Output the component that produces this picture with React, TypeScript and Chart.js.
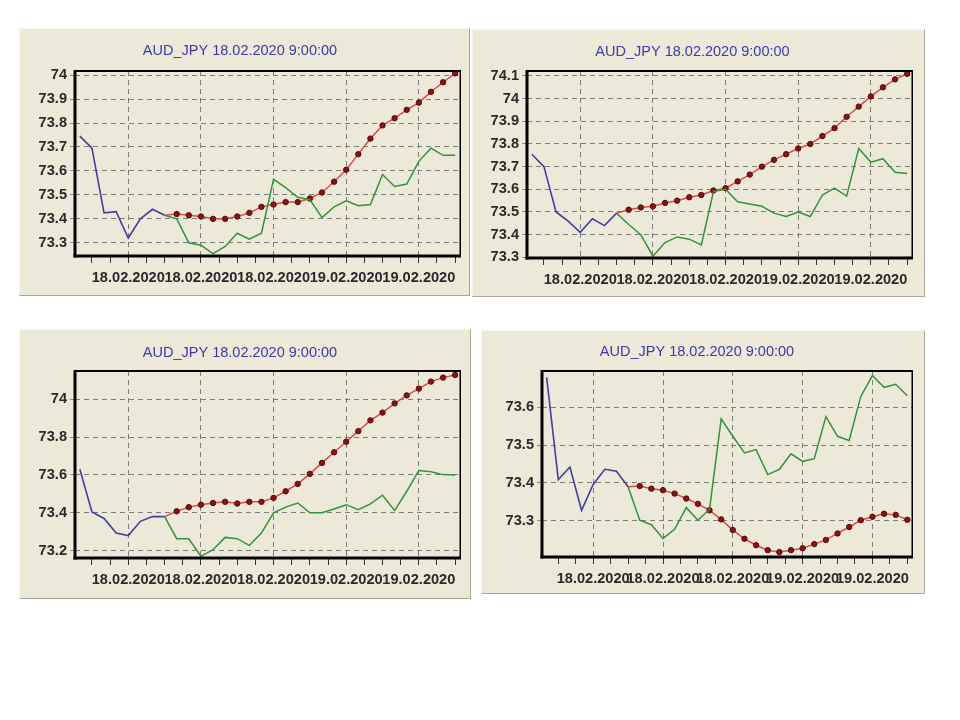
import { useEffect, useRef } from 'react';
import Chart from 'chart.js/auto';

const TITLE = 'AUD_JPY 18.02.2020 9:00:00';
const FONT = "'Liberation Sans', Arial, sans-serif";

// hourly bars, index 0..31; history is 0..7, forecast 7..31
const FORECAST_START = 7;
const X_MIN = -0.4;
const X_MAX = 31.4;
const xTicks = [1, 2.5, 4, 5.5, 7, 8.5, 10, 11.5, 13, 14.5, 16, 17.5, 19, 20.5, 22, 23.5, 25, 26.5, 28, 29.5, 31];
const xMajor = [4, 10, 16, 22, 28];
const xMajorLabels = ['18.02.2020', '18.02.2020', '18.02.2020', '19.02.2020', '19.02.2020'];

// panel 1
const blue1 = [73.745, 73.695, 73.425, 73.43, 73.32, 73.4, 73.44, 73.415];
const green1 = [73.415, 73.4, 73.3, 73.29, 73.255, 73.285, 73.34, 73.315, 73.34, 73.565, 73.53, 73.49, 73.48, 73.405, 73.45, 73.475, 73.455, 73.46, 73.585, 73.535, 73.545, 73.64, 73.695, 73.665, 73.665];
const red1 = [73.415, 73.42, 73.415, 73.41, 73.4, 73.4, 73.41, 73.425, 73.45, 73.46, 73.47, 73.47, 73.485, 73.51, 73.555, 73.605, 73.67, 73.735, 73.79, 73.82, 73.855, 73.885, 73.93, 73.97, 74.007];
const yTicks1 = [73.3, 73.4, 73.5, 73.6, 73.7, 73.8, 73.9, 74];
const yLabels1 = ['73.3', '73.4', '73.5', '73.6', '73.7', '73.8', '73.9', '74'];

// panel 2
const blue2 = [73.755, 73.7, 73.5, 73.46, 73.41, 73.47, 73.44, 73.495];
const green2 = [73.495, 73.445, 73.4, 73.305, 73.365, 73.39, 73.38, 73.355, 73.59, 73.6, 73.545, 73.535, 73.525, 73.495, 73.48, 73.5, 73.48, 73.575, 73.605, 73.57, 73.78, 73.72, 73.735, 73.675, 73.67];
const red2 = [73.495, 73.51, 73.52, 73.525, 73.54, 73.55, 73.565, 73.575, 73.595, 73.605, 73.635, 73.665, 73.7, 73.73, 73.755, 73.78, 73.8, 73.835, 73.87, 73.92, 73.965, 74.01, 74.05, 74.085, 74.11];
const yTicks2 = [73.3, 73.4, 73.5, 73.6, 73.7, 73.8, 73.9, 74, 74.1];
const yLabels2 = ['73.3', '73.4', '73.5', '73.6', '73.7', '73.8', '73.9', '74', '74.1'];

// panel 3
const blue3 = [73.63, 73.405, 73.37, 73.293, 73.28, 73.355, 73.38, 73.38];
const green3 = [73.38, 73.263, 73.263, 73.17, 73.205, 73.27, 73.263, 73.228, 73.293, 73.4, 73.43, 73.452, 73.4, 73.4, 73.42, 73.443, 73.417, 73.447, 73.493, 73.412, 73.514, 73.624, 73.617, 73.602, 73.6];
const red3 = [73.38, 73.408, 73.43, 73.443, 73.452, 73.458, 73.449, 73.458, 73.458, 73.479, 73.514, 73.553, 73.606, 73.664, 73.72, 73.776, 73.832, 73.889, 73.93, 73.979, 74.021, 74.057, 74.094, 74.115, 74.129];
const yTicks3 = [73.2, 73.4, 73.6, 73.8, 74];
const yLabels3 = ['73.2', '73.4', '73.6', '73.8', '74'];

// panel 4
const blue4 = [73.678, 73.409, 73.442, 73.328, 73.396, 73.436, 73.431, 73.39];
const green4 = [73.39, 73.302, 73.29, 73.254, 73.278, 73.335, 73.302, 73.331, 73.569, 73.523, 73.479, 73.488, 73.422, 73.436, 73.477, 73.457, 73.464, 73.575, 73.523, 73.512, 73.628, 73.683, 73.652, 73.66, 73.63];
const red4 = [73.39, 73.392, 73.385, 73.381, 73.372, 73.359, 73.345, 73.328, 73.304, 73.276, 73.253, 73.236, 73.223, 73.218, 73.223, 73.228, 73.239, 73.25, 73.267, 73.284, 73.302, 73.311, 73.319, 73.316, 73.303];
const yTicks4 = [73.3, 73.4, 73.5, 73.6];
const yLabels4 = ['73.3', '73.4', '73.5', '73.6'];

const panels = [
  { blue: blue1, green: green1, red: red1, yMin: 73.245, yMax: 74.017, yTicks: yTicks1, yLabels: yLabels1 },
  { blue: blue2, green: green2, red: red2, yMin: 73.297, yMax: 74.122, yTicks: yTicks2, yLabels: yLabels2 },
  { blue: blue3, green: green3, red: red3, yMin: 73.161, yMax: 74.15, yTicks: yTicks3, yLabels: yLabels3 },
  { blue: blue4, green: green4, red: red4, yMin: 73.205, yMax: 73.695, yTicks: yTicks4, yLabels: yLabels4 },
];

// where each panel sits on the page, and the plot box insets inside it
const boxes = [
  { x: 19, y: 28, w: 451, h: 268, l: 56, t: 43, r: 10, b: 40, mid: 23 },
  { x: 472, y: 29, w: 453, h: 268, l: 55, t: 42, r: 13, b: 39, mid: 23 },
  { x: 19, y: 329, w: 452, h: 270, l: 56, t: 42, r: 11, b: 41, mid: 24 },
  { x: 481, y: 330, w: 444, h: 264, l: 61, t: 41, r: 13, b: 37, mid: 22 },
];

const framePlugin = {
  id: 'frame',
  afterDraw(chart) {
    const { ctx, chartArea: a } = chart;
    ctx.save();
    ctx.fillStyle = '#000';
    ctx.fillRect(a.left - 1, a.top - 1, a.width + 2, 2);
    ctx.fillRect(a.right - 0.5, a.top - 1, 1.5, a.height + 2);
    ctx.fillRect(a.left - 1.5, a.top - 1, 3, a.height + 2.5);
    ctx.fillRect(a.left - 1.5, a.bottom - 1.5, a.width + 2.5, 3);
    ctx.restore();
  },
};

function PricePanel({ data, box }) {
  const canvasRef = useRef(null);

  useEffect(() => {
    if (!canvasRef.current) return;
    const titleTop = box.mid - 1 - 8.7;
    const titleBottom = box.t - 1 - 17.4 - titleTop;
    const chart = new Chart(canvasRef.current, {
      type: 'line',
      data: {
        datasets: [
          {
            data: data.blue.map((y, i) => ({ x: i, y })),
            borderColor: '#4040a0',
            borderWidth: 1.6,
            pointRadius: 0,
          },
          {
            data: data.green.map((y, i) => ({ x: FORECAST_START + i, y })),
            borderColor: '#33933a',
            borderWidth: 1.5,
            pointRadius: 0,
          },
          {
            data: data.red.map((y, i) => ({ x: FORECAST_START + i, y })),
            borderColor: '#dc4c4c',
            borderWidth: 1.5,
            pointRadius: (c) => (c.dataIndex === 0 ? 0 : 2.7),
            pointBackgroundColor: '#8c1212',
            pointBorderColor: '#520909',
            pointBorderWidth: 1,
          },
        ],
      },
      options: {
        animation: false,
        responsive: true,
        maintainAspectRatio: false,
        layout: { padding: { left: 0, top: 0, bottom: 0, right: box.r - 1 } },
        plugins: {
          legend: { display: false },
          tooltip: { enabled: false },
          title: {
            display: true,
            text: TITLE,
            color: '#3b3bab',
            font: { family: FONT, size: 14.5, weight: 'normal' },
            padding: { top: titleTop, bottom: titleBottom },
          },
        },
        scales: {
          x: {
            type: 'linear',
            min: X_MIN,
            max: X_MAX,
            bounds: 'data',
            afterBuildTicks: (s) => {
              s.ticks = xTicks.map((v) => ({ value: v }));
            },
            afterFit: (s) => {
              s.height = box.b - 1;
            },
            ticks: {
              autoSkip: false,
              maxRotation: 0,
              minRotation: 0,
              padding: 6,
              color: '#2a2a2a',
              font: { family: FONT, size: 14.6, weight: 'bold' },
              callback: (v) => {
                const k = xMajor.indexOf(v);
                return k < 0 ? '' : xMajorLabels[k];
              },
            },
            grid: {
              color: (c) => (c.tick && xMajor.includes(c.tick.value) ? '#7c7c7c' : 'rgba(0,0,0,0)'),
              tickColor: '#333',
              tickLength: 7,
              lineWidth: 1,
            },
            border: { display: false, dash: [5, 4] },
          },
          y: {
            type: 'linear',
            min: data.yMin,
            max: data.yMax,
            bounds: 'data',
            afterBuildTicks: (s) => {
              s.ticks = data.yTicks.map((v) => ({ value: v }));
            },
            afterFit: (s) => {
              s.width = box.l - 1;
            },
            ticks: {
              padding: 3,
              color: '#2a2a2a',
              font: { family: FONT, size: 14.6, weight: 'bold' },
              callback: (v, i) => data.yLabels[i],
            },
            grid: {
              color: '#7c7c7c',
              tickColor: '#8a8a8a',
              tickLength: 5,
              lineWidth: 1,
            },
            border: { display: false, dash: [5, 4] },
          },
        },
      },
      plugins: [framePlugin],
    });
    return () => chart.destroy();
  }, [data, box]);

  return (
    <div
      style={{
        position: 'absolute',
        left: box.x,
        top: box.y,
        width: box.w,
        height: box.h,
        boxSizing: 'border-box',
        background: '#ece9d8',
        borderTop: '1px solid #f6f5ee',
        borderLeft: '1px solid #f6f5ee',
        borderRight: '1px solid #aaa79a',
        borderBottom: '1px solid #aaa79a',
      }}
    >
      <div style={{ position: 'relative', width: box.w - 2, height: box.h - 2 }}>
        <canvas ref={canvasRef} />
      </div>
    </div>
  );
}

export default function App() {
  return (
    <div
      style={{
        position: 'fixed',
        left: 0,
        top: 0,
        width: 960,
        height: 720,
        background: '#fff',
        overflow: 'hidden',
      }}
    >
      {panels.map((p, i) => (
        <PricePanel key={i} data={p} box={boxes[i]} />
      ))}
    </div>
  );
}
